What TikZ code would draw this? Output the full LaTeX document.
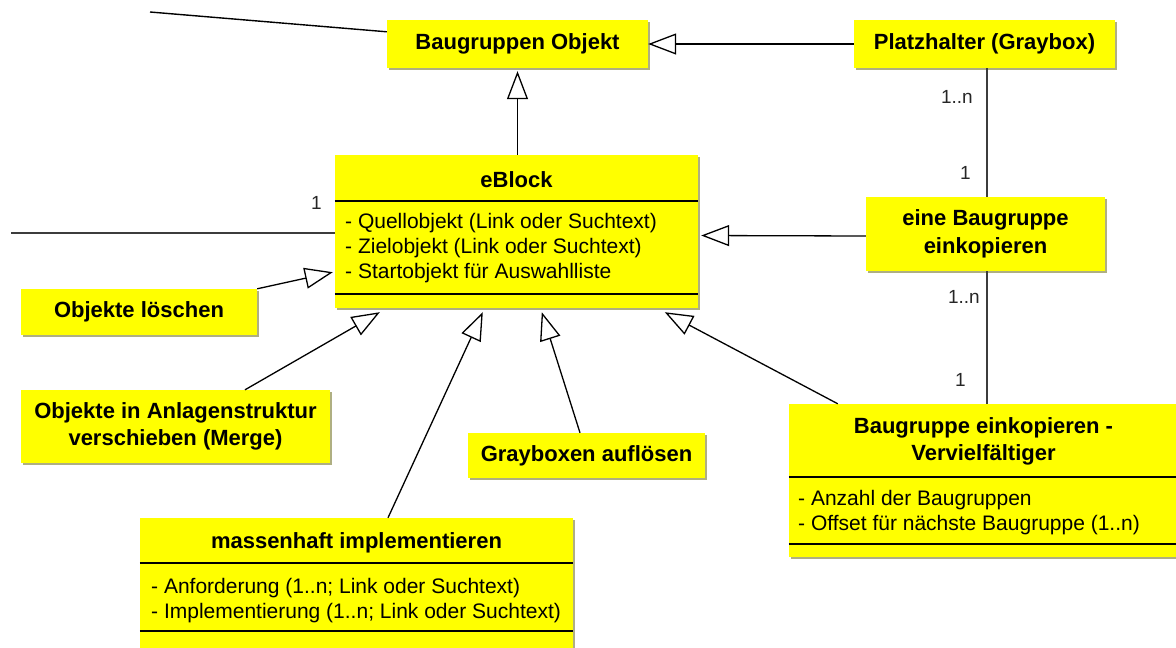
\documentclass[tikz,border=0pt]{standalone}
\usepackage{fontspec}
\setmainfont{Liberation Sans}
\usetikzlibrary{arrows.meta,shadows}
\definecolor{boxyellow}{RGB}{255,255,0}
\definecolor{boxshade}{RGB}{175,175,130}
\definecolor{assocgray}{RGB}{60,60,60}

\begin{document}
\begin{tikzpicture}[x=1pt,y=-1pt,
  box/.style={fill=boxyellow, draw=none, inner sep=0pt,
    drop shadow={shadow xshift=1.5pt, shadow yshift=-1.5pt, opacity=1, fill=boxshade}},
  ttl/.style={font=\fontsize{22}{27.5}\selectfont\bfseries, align=center, inner sep=0pt},
  attr/.style={font=\fontsize{21}{25}\selectfont, align=left, inner sep=0pt, anchor=west},
  mult/.style={font=\fontsize{19}{22}\selectfont, inner sep=0pt, text=black!85},
  sep/.style={draw=black, line width=1.6pt},
  gen/.style={draw=black, line width=1.3pt, line join=miter,
    -{Triangle[open, length=28pt, width=21pt, line width=1.3pt]}},
  assoc/.style={draw=assocgray, line width=1.6pt}
]
\useasboundingbox (0,0) rectangle (1176,648);

% plain boxes
\node[box, ttl, minimum width=261pt, minimum height=48pt] (bgo) at (517.5,44) {Baugruppen Objekt};
\node[box, ttl, minimum width=261pt, minimum height=48pt] (ph) at (984.5,44) {Platzhalter (Graybox)};
\node[box, ttl, minimum width=239pt, minimum height=74pt] (ebk) at (985.5,234) {eine Baugruppe\\einkopieren};
\node[box, ttl, minimum width=236pt, minimum height=46pt] (ol) at (139,312) {Objekte löschen};
\node[box, ttl, minimum width=309pt, minimum height=73pt] (oia) at (175.5,426.5) {Objekte in Anlagenstruktur\\verschieben (Merge)};
\node[box, ttl, minimum width=237pt, minimum height=45pt] (gba) at (586.5,455.5) {Grayboxen auflösen};

% class eBlock
\node[box, minimum width=363pt, minimum height=153pt] (eb) at (516.5,231.5) {};
\node[ttl] (ebt) at (516.5,180) {eBlock};
\draw[sep] ([yshift=-46pt]eb.north west) -- ([yshift=-46pt]eb.north east);
\node[attr] (eba) at (345,248) {- Quellobjekt (Link oder Suchtext)\\- Zielobjekt (Link oder Suchtext)\\- Startobjekt für Auswahlliste};
\draw[sep] ([yshift=-139pt]eb.north west) -- ([yshift=-139pt]eb.north east);

% class Vervielfaeltiger
\node[box, minimum width=389pt, minimum height=153pt] (vv) at (983.5,480.5) {};
\node[ttl] (vvt) at (983.5,441.5) {Baugruppe einkopieren -\\Vervielfältiger};
\draw[sep] ([yshift=-73pt]vv.north west) -- ([yshift=-73pt]vv.north east);
\node[attr] (vva) at (798,512.5) {- Anzahl der Baugruppen\\- Offset für nächste Baugruppe (1..n)};
\draw[sep] ([yshift=-140pt]vv.north west) -- ([yshift=-140pt]vv.north east);

% class massenhaft implementieren
\node[box, minimum width=433pt, minimum height=132pt] (mi) at (356.5,584) {};
\node[ttl] (mit) at (356.5,543) {massenhaft implementieren};
\draw[sep] ([yshift=-45pt]mi.north west) -- ([yshift=-45pt]mi.north east);
\node[attr] (mia) at (151,600.5) {- Anforderung (1..n; Link oder Suchtext)\\- Implementierung (1..n; Link oder Suchtext)};
\draw[sep] ([yshift=-113pt]mi.north west) -- ([yshift=-113pt]mi.north east);

% generalizations
\draw[gen] (ph.west) -- (bgo.east);
\draw[gen, shorten >=3pt] ([xshift=1pt]eb.north) -- ([xshift=1pt]eb.north |- bgo.south);
\draw[gen, shorten >=3pt] ([yshift=-2pt]ebk.west) -- ([yshift=-4pt]eb.east);
\draw[gen] (ol.north east) -- ([xshift=-2pt,yshift=36pt]eb.south west);
\draw[gen] ([xshift=69.5pt]oia.north) -- ([xshift=45pt,yshift=-4pt]eb.south west);
\draw[gen] ([xshift=31.5pt]mi.north) -- ([xshift=148pt,yshift=-4pt]eb.south west);
\draw[gen] ([xshift=-6.5pt]gba.north) -- ([xshift=207pt,yshift=-4pt]eb.south west);
\draw[gen] ([xshift=49pt]vv.north west) -- ([xshift=330pt,yshift=-4pt]eb.south west);

% associations
\coordinate (endA) at (150,12);
\coordinate (endB) at (11,233);
\draw[assoc, draw=black, line width=1.4pt] ([yshift=-12pt]bgo.north west) -- (endA);
\draw[assoc] ([yshift=-1.5pt]eb.west) -- (endB);
\node[mult, anchor=east] (m0) at (322,203) {1};
\draw[assoc] ([xshift=2.5pt]ph.south) -- ([xshift=1.5pt]ebk.north);
\node[mult, anchor=east] (m1) at (973,97) {1..n};
\node[mult, anchor=east] (m2) at (971,173) {1};
\draw[assoc] ([xshift=1.5pt]ebk.south) -- ([xshift=3.5pt]vv.north);
\node[mult, anchor=east] (m3) at (980,297) {1..n};
\node[mult, anchor=east] (m4) at (966,380) {1};
\end{tikzpicture}
\end{document}
